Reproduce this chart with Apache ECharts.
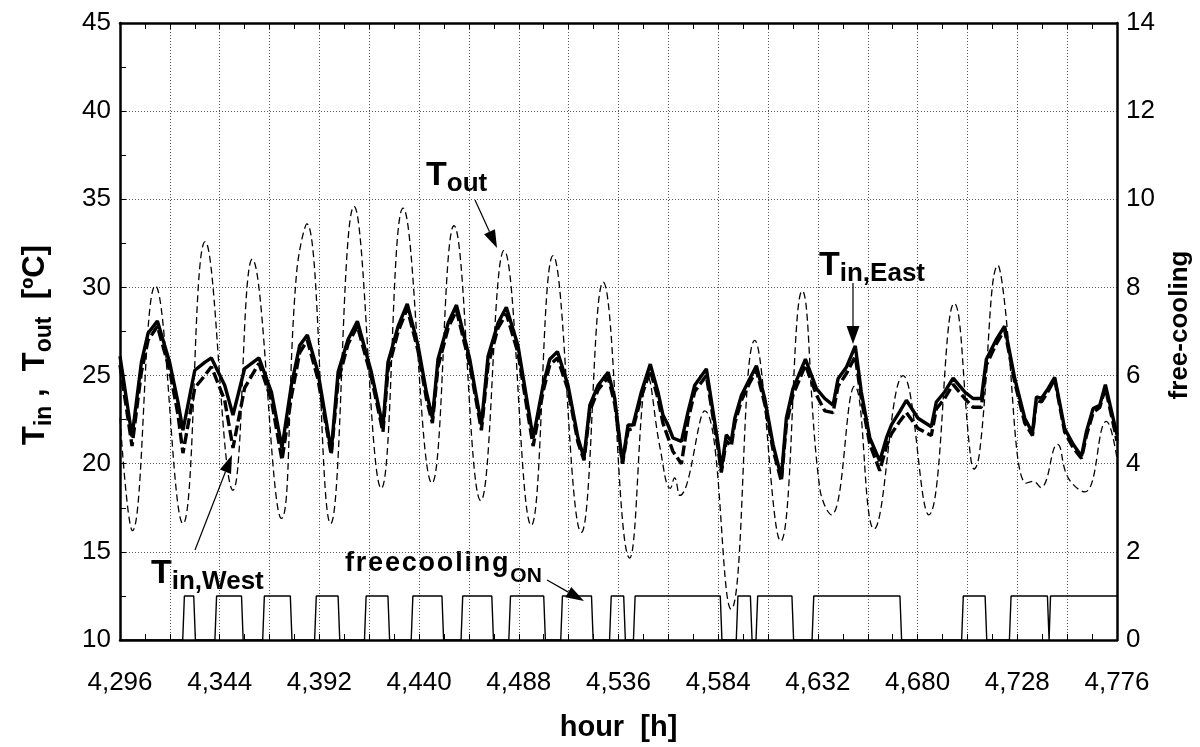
<!DOCTYPE html>
<html>
<head>
<meta charset="utf-8">
<script src="https://cdn.jsdelivr.net/npm/echarts@6/dist/echarts.min.js"></script>
<style>html,body{margin:0;padding:0;background:#fff}#c{width:1200px;height:747px}</style>
</head>
<body>
<div id="c"></div>
<script>
// ---------- DATA ----------
const xTicks = [4296, 4344, 4392, 4440, 4488, 4536, 4584, 4632, 4680, 4728, 4776];
const leftTicks = [10, 15, 20, 25, 30, 35, 40, 45];
const rightTicks = [0, 2, 4, 6, 8, 10, 12, 14];

const tOut = [
  [4296,22.6],[4302,16.2],[4313,30.1],[4326.3,16.6],[4337,32.6],[4350.4,18.5],[4359.7,31.6],
  [4373.7,16.9],[4381,30.8],[4386,33.6],[4397.4,16.6],[4408.7,34.6],[4421.8,18.6],[4432.3,34.5],
  [4446.2,18.9],[4456.8,33.5],[4469.7,17.9],[4480.9,32.1],[4494,16.5],[4504.5,31.8],[4518.1,16.1],
  [4528.6,30.3],[4541.4,14.65],[4550.2,24.9],[4556,20.9],[4561,18.6],[4563,19.2],[4565.5,18.2],
  [4577.5,23.0],[4590.2,11.75],[4601.6,27.0],[4614.1,15.6],[4624.4,29.8],[4632.9,18.6],[4638.5,17.1],
  [4649.7,24.4],[4659,16.3],[4673,25.0],[4685.4,17.1],[4697.6,29.1],[4705.6,20.3],[4707.2,19.7],
  [4709.9,20.7],[4718.8,31.25],[4721,30.0],[4732.4,18.9],[4735.6,19.0],[4739.3,18.65],[4747.3,21.1],
  [4752.5,19.2],[4760.5,18.4],[4770.9,22.4],[4776,20.3]
];

const tInEast = [
  [4296,26.1],[4301.8,21.55],[4306.3,25.75],[4309.5,27.4],[4314,28.1],[4319.9,25.75],[4323.9,23.5],
  [4326.3,21.9],[4332,25.3],[4336.8,25.75],[4340,26.0],[4346.4,24.45],[4350.4,22.76],[4356,25.4],
  [4362.9,26.0],[4368.9,24.07],[4374,20.9],[4378.5,24.45],[4382.5,26.7],[4386.2,27.3],[4391.3,25.2],
  [4397.7,20.7],[4401,25.2],[4405.8,27.05],[4410.3,28.08],[4417,25.2],[4422.6,22.1],[4425,25.75],
  [4429.9,27.8],[4434.3,29.07],[4439.5,26.7],[4443.5,24.07],[4446.4,22.58],[4449.1,25.93],[4454,27.98],
  [4458,29.0],[4464.4,25.93],[4470,22.2],[4473.2,26.1],[4478,27.98],[4482,28.88],[4487.6,26.7],
  [4494.9,21.46],[4499.7,24.45],[4502.9,25.93],[4506.6,26.36],[4511.7,24.45],[4516.5,21.46],[4519.4,20.34],
  [4522.2,23.32],[4526.2,24.45],[4531,25.19],[4534.2,23.7],[4537.9,20.06],[4540.6,22.2],[4543,22.2],
  [4547,24.07],[4551.3,25.65],[4555,24.07],[4557.4,22.76],[4559.8,22.2],[4562.2,21.46],[4566.3,21.27],
  [4569.5,22.95],[4572.7,24.45],[4578.3,25.38],[4584,21.1],[4585.5,19.68],[4587.9,21.64],[4590.3,21.27],
  [4592,22.58],[4595.2,23.88],[4599.2,24.82],[4602.4,25.56],[4606.4,23.7],[4610.4,21.1],[4614.4,19.22],
  [4616.8,22.58],[4620,24.26],[4626,25.93],[4631.3,24.26],[4635.3,23.7],[4639.3,23.32],[4641.7,24.82],
  [4645.7,25.47],[4650,26.68],[4652.9,24.07],[4657,21.46],[4661.8,20.15],[4665,21.46],[4667.4,22.2],
  [4671.4,22.95],[4674.6,23.6],[4680.2,22.58],[4686.6,22.1],[4689,23.5],[4693,24.07],[4697.1,24.85],
  [4702.7,24.07],[4706.7,23.7],[4710.7,23.7],[4713.1,25.93],[4717.9,27.05],[4721.9,27.8],[4726.8,24.82],
  [4731.6,22.58],[4735.3,21.74],[4737.2,23.79],[4739.6,23.7],[4742.8,24.26],[4746,24.9],[4750.8,22.0],
  [4754.9,21.1],[4758.9,20.43],[4761.3,21.83],[4764.5,23.13],[4767.7,23.32],[4770.4,24.48],[4776,21.64]
];

const tInWest = [
  [4296,25.6],[4301.8,21.0],[4306.3,25.2],[4309.5,27.0],[4314,27.8],[4319.9,25.3],[4323.9,22.8],
  [4326.3,20.6],[4332,24.3],[4336.8,25.0],[4340,25.5],[4346.4,23.6],[4350.4,20.9],[4356,24.3],
  [4362.9,25.7],[4368.9,23.6],[4374,20.2],[4378.5,23.8],[4382.5,26.3],[4386.2,27.0],[4391.3,24.8],
  [4397.7,20.5],[4401,24.7],[4405.8,26.8],[4410.3,27.8],[4417,24.9],[4422.6,21.8],[4425,25.3],
  [4429.9,27.5],[4434.3,28.8],[4439.5,26.4],[4443.5,23.7],[4446.4,22.3],[4449.1,25.5],[4454,27.7],
  [4458,28.7],[4464.4,25.6],[4470,21.9],[4473.2,25.6],[4478,27.7],[4482,28.5],[4487.6,26.3],
  [4494.9,21.0],[4499.7,24.1],[4502.9,25.6],[4506.6,26.0],[4511.7,24.2],[4516.5,21.2],[4519.4,20.2],
  [4522.2,23.0],[4526.2,24.2],[4531,24.9],[4534.2,23.4],[4537.9,20.0],[4540.6,21.9],[4543,22.0],
  [4547,23.8],[4551.3,25.3],[4555,23.7],[4557.4,22.3],[4559.8,21.5],[4562.2,20.7],[4566.3,20.0],
  [4569.5,22.5],[4572.7,24.1],[4578.3,25.0],[4584,20.8],[4585.5,19.5],[4587.9,21.3],[4590.3,21.0],
  [4592,22.3],[4595.2,23.6],[4599.2,24.6],[4602.4,25.3],[4606.4,23.4],[4610.4,20.8],[4614.4,19.0],
  [4616.8,22.2],[4620,23.9],[4626,25.6],[4631.3,23.9],[4635.3,23.0],[4639.3,22.9],[4641.7,24.4],
  [4645.7,25.1],[4650,26.1],[4652.9,23.7],[4657,21.1],[4661.8,19.6],[4665,21.0],[4667.4,21.7],
  [4671.4,22.4],[4674.6,22.9],[4680.2,22.0],[4686.6,21.6],[4689,23.1],[4693,23.7],[4697.1,24.5],
  [4702.7,23.7],[4706.7,23.2],[4710.7,23.2],[4713.1,25.6],[4717.9,26.8],[4721.9,27.6],[4726.8,24.6],
  [4731.6,22.3],[4735.3,21.6],[4737.2,23.6],[4739.6,23.5],[4742.8,24.1],[4746,24.8],[4750.8,21.8],
  [4754.9,20.9],[4758.9,20.3],[4761.3,21.6],[4764.5,22.9],[4767.7,23.2],[4770.4,24.3],[4776,21.3]
];

// free-cooling ON periods (hour where the flag reaches 1, hour where it leaves 1)
const freeOn = [
  [4327,4331.5],[4342.5,4354.5],[4365.5,4378],[4390.5,4401],[4414.5,4425],[4437,4451],
  [4461,4475],[4484,4500],[4509,4523],[4532.5,4538.5],[4544,4585],[4593.5,4599.5],
  [4603,4619.5],[4630,4671.5],[4702,4712.5],[4725,4742.5],[4744,4776]
];
const freeRamp = 0.8; // hours for a 0 <-> 1 transition

// ---------- build ----------
const freeData = [[4296,0]];
freeOn.forEach(([a,b]) => {
  freeData.push([a - freeRamp, 0], [a, 1], [b, 1]);
  if (b < 4776) freeData.push([b + freeRamp, 0]);
});
if (freeData[freeData.length-1][0] < 4776) freeData.push([4776, 0]);

const FONT = '"Liberation Sans", Arial, Helvetica, sans-serif';
const ctx = document.createElement('canvas').getContext('2d');
function measure(t, fs){ ctx.font = 'bold ' + fs + 'px ' + FONT; return ctx.measureText(t).width; }
function pieces(parts){ // parts: [text, fontSize, dy, letterSpacing]
  let x = 0; const els = [];
  parts.forEach(([t, fs, dy, ls]) => {
    const chunks = ls ? t.split('') : [t];
    chunks.forEach(ch => {
      els.push({type:'text', x: x, y: (dy||0) - 0.34*fs,
        style:{text:ch, font:'bold ' + fs + 'px ' + FONT, fill:'#000', textAlign:'left', textVerticalAlign:'middle'}});
      x += measure(ch, fs) + (ls || 0);
    });
  });
  return {els, width:x};
}
function label(parts, x, baseline){
  const p = pieces(parts);
  return {type:'group', x:x, y:baseline, children:p.els, z:100};
}
function vlabel(parts, cy, baseX){ // rotated, reading bottom -> top, centred at cy
  const p = pieces(parts);
  return {type:'group', x:baseX, y:cy + p.width/2, rotation:Math.PI/2, children:p.els, z:100};
}
function arrow(x1,y1,x2,y2,hl,hw){
  const dx=x2-x1, dy=y2-y1, L=Math.hypot(dx,dy), ux=dx/L, uy=dy/L;
  const bx=x2-ux*hl, by=y2-uy*hl, px=-uy, py=ux;
  return [
    {type:'line', z:100, shape:{x1:x1,y1:y1,x2:bx,y2:by}, style:{stroke:'#000', lineWidth:1.2}},
    {type:'polygon', z:100, shape:{points:[[x2,y2],[bx+px*hw/2,by+py*hw/2],[bx-px*hw/2,by-py*hw/2]]}, style:{fill:'#000'}}
  ];
}
const fmtThousands = v => String(v).replace(/\B(?=(\d{3})+(?!\d))/g, ',');

const chart = echarts.init(document.getElementById('c'), null, {renderer:'canvas'});
const dotted = {type:[1,2], color:'#555', width:1};
const axisBlack = {show:true, lineStyle:{color:'#000', width:2.5}};

chart.setOption({
  animation:false,
  backgroundColor:'#fff',
  grid:{left:120, right:83, top:23, bottom:99, containLabel:false},
  xAxis:[
    {type:'value', position:'bottom', min:xTicks[0], max:xTicks[xTicks.length-1], interval:24,
     axisLine:axisBlack,
     axisTick:{show:true, inside:true, length:6, lineStyle:{color:'#000', width:1}},
     minorTick:{show:true, splitNumber:2, length:6, lineStyle:{color:'#000', width:1}},
     splitLine:{show:true, lineStyle:dotted},
     axisLabel:{color:'#000', fontSize:26, fontFamily:FONT, margin:30,
       formatter: v => xTicks.indexOf(v) >= 0 ? fmtThousands(v) : ''},
     name:'hour  [h]', nameLocation:'middle', nameGap:73,
     nameTextStyle:{color:'#000', fontSize:29, fontWeight:'bold', fontFamily:FONT}},
    {type:'value', position:'top', min:xTicks[0], max:xTicks[xTicks.length-1], interval:24,
     axisLine:axisBlack,
     axisTick:{show:true, inside:true, length:6, lineStyle:{color:'#000', width:1}},
     minorTick:{show:true, splitNumber:2, length:6, lineStyle:{color:'#000', width:1}},
     splitLine:{show:false}, axisLabel:{show:false}}
  ],
  yAxis:[
    {type:'value', position:'left', min:leftTicks[0], max:leftTicks[leftTicks.length-1], interval:5,
     axisLine:axisBlack,
     axisTick:{show:true, inside:true, length:6, lineStyle:{color:'#000', width:1}},
     minorTick:{show:true, splitNumber:2, length:6, lineStyle:{color:'#000', width:1}},
     splitLine:{show:true, lineStyle:dotted},
     axisLabel:{color:'#000', fontSize:26, fontFamily:FONT, margin:9}},
    {type:'value', position:'right', min:rightTicks[0], max:rightTicks[rightTicks.length-1], interval:2,
     axisLine:axisBlack, axisTick:{show:false}, splitLine:{show:false},
     axisLabel:{color:'#000', fontSize:26, fontFamily:FONT, margin:9}}
  ],
  series:[
    {name:'T_out', type:'line', data:tOut, xAxisIndex:0, yAxisIndex:0, showSymbol:false, smooth:0.45,
     lineStyle:{color:'#000', width:1.3, type:[7,4]}},
    {name:'T_in,West', type:'line', data:tInWest, xAxisIndex:0, yAxisIndex:0, showSymbol:false,
     lineStyle:{color:'#000', width:3.4, type:[11,4]}},
    {name:'T_in,East', type:'line', data:tInEast, xAxisIndex:0, yAxisIndex:0, showSymbol:false,
     lineStyle:{color:'#000', width:3.4}},
    {name:'freecooling', type:'line', data:freeData, xAxisIndex:0, yAxisIndex:1, showSymbol:false,
     lineStyle:{color:'#000', width:1.4}}
  ],
  graphic:[
    label([['T',34,0],['out',26,6]], 426, 187),
    label([['T',34,0],['in,East',26,6]], 819, 277),
    label([['T',34,0],['in,West',26,6]], 151, 585),
    label([['freecooling',27,0,1.8],['ON',21,10]], 345, 573),
    ...arrow(475,200,497,248,18,12),
    ...arrow(853,283,853,344,18,13),
    ...arrow(195,550,232,455,18,12),
    ...arrow(547,580,584,601,18,12),
    vlabel([['T',31,0],['in',23,6],[' ,  T',31,0],['out',23,6],['  [ºC]',31,0]], 345, 46),
    vlabel([['free-cooling',26,0]], 325, 1189)
  ]
});
</script>
</body>
</html>
